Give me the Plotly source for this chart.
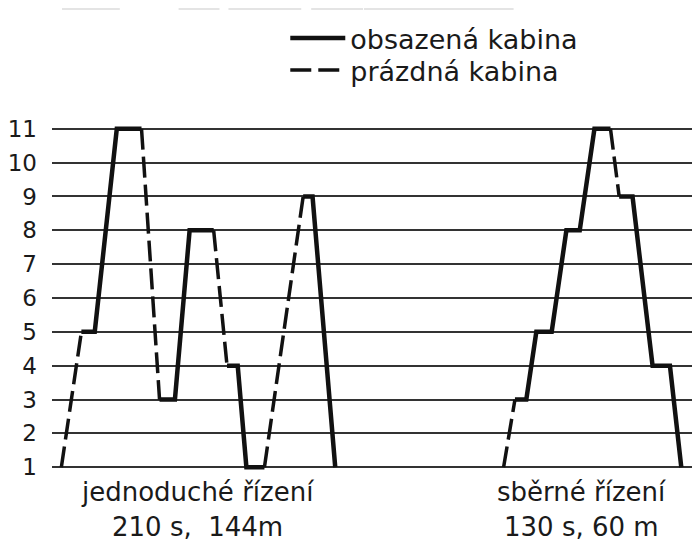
import plotly.graph_objects as go

# ---- data ----
floors = [1, 2, 3, 4, 5, 6, 7, 8, 9, 10, 11]
floor_labels = [str(f) for f in floors]

# simple control (jednoduché řízení): time [s] and floor
simple_time = [7, 22, 32, 48.5, 67, 80.5, 92, 103, 121, 131, 139, 145.5, 159, 188, 195, 212]
simple_floor = [1, 5, 5, 11, 11, 3, 3, 8, 8, 4, 4, 1, 1, 9, 9, 1]
simple_empty = [1, 0, 0, 0, 1, 0, 0, 0, 1, 0, 0, 0, 1, 0, 0]  # 1 = empty cabin segment

# collective control (sběrné řízení)
coll_time = [338, 346.5, 355, 362.5, 374, 385, 395, 406, 418, 424.5, 434.5, 449.5, 462.5, 471]
coll_floor = [1, 3, 3, 5, 5, 8, 8, 11, 11, 9, 9, 4, 4, 1]
coll_empty = [1, 0, 0, 0, 0, 0, 0, 0, 1, 0, 0, 0, 0]

series_names = ["obsazená kabina", "prázdná kabina"]
group_labels = ["jednoduché řízení", "sběrné řízení"]
group_stats = ["210 s,  144m", "130 s, 60 m"]
group_centers = [109, 396]


def split_segments(times, fls, empties):
    out = {0: ([], []), 1: ([], [])}
    last_end = {0: None, 1: None}
    for i, e in enumerate(empties):
        p0 = (times[i], fls[i])
        p1 = (times[i + 1], fls[i + 1])
        xs, ys = out[e]
        if last_end[e] != p0:
            if xs:
                xs.append(None)
                ys.append(None)
            xs.append(p0[0])
            ys.append(p0[1])
        xs.append(p1[0])
        ys.append(p1[1])
        last_end[e] = p1
    return out


solid_x, solid_y, dash_x, dash_y = [], [], [], []
for t, f, e in [(simple_time, simple_floor, simple_empty), (coll_time, coll_floor, coll_empty)]:
    seg = split_segments(t, f, e)
    for key, (xl, yl) in [(0, (solid_x, solid_y)), (1, (dash_x, dash_y))]:
        if xl:
            xl.append(None)
            yl.append(None)
        xl.extend(seg[key][0])
        yl.extend(seg[key][1])

fig = go.Figure()
fig.add_trace(go.Scatter(x=solid_x, y=solid_y, mode="lines", name=series_names[0],
                         line=dict(color="#111111", width=4.5), connectgaps=False,
                         legend="legend"))
fig.add_trace(go.Scatter(x=dash_x, y=dash_y, mode="lines", name=series_names[1],
                         line=dict(color="#111111", width=3.5, dash="21px,7px"), connectgaps=False,
                         legend="legend2"))

font_family = "DejaVu Sans, Noto Sans, sans-serif"

for lbl, stat, cx in zip(group_labels, group_stats, group_centers):
    fig.add_annotation(x=cx, xref="x", y=-0.051, yref="paper", text=lbl, showarrow=False,
                       font=dict(size=26, color="#1a1a1a", family=font_family),
                       xanchor="center", yanchor="middle")
    fig.add_annotation(x=cx, xref="x", y=-0.151, yref="paper", text=stat, showarrow=False,
                       font=dict(size=26, color="#1a1a1a", family=font_family),
                       xanchor="center", yanchor="middle")

# faint scan band at the top
for x0, x1 in [(60, 118), (177, 218), (227, 300), (310, 362), (363, 513)]:
    fig.add_shape(type="rect", xref="paper", yref="paper",
                  x0=(x0 - 50) / 650, x1=(x1 - 50) / 650, y0=1.318, y1=1.3466,
                  fillcolor="#e4e4e4", line=dict(width=0), layer="below")

legend_common = dict(xanchor="left", yanchor="top",
                     font=dict(size=27, color="#1a1a1a", family=font_family),
                     bgcolor="rgba(0,0,0,0)", itemwidth=55)

fig.update_layout(
    width=692, height=534,
    margin=dict(l=42, r=0, t=114, b=68),
    paper_bgcolor="white", plot_bgcolor="white",
    showlegend=True,
    legend=dict(x=0.36, y=1.307, **legend_common),
    legend2=dict(x=0.36, y=1.216, **legend_common),
    xaxis=dict(range=[0, 485], showgrid=False, zeroline=False, showticklabels=False,
               showline=False, ticks=""),
    yaxis=dict(range=[0.8, 11.2], tickvals=floors, ticktext=floor_labels,
               showgrid=True, gridcolor="#333333", gridwidth=1.6, zeroline=False,
               showline=False, ticks="", ticklabelstandoff=14,
               tickfont=dict(size=23, color="#1a1a1a", family=font_family)),
)

fig.write_html("out.html")
